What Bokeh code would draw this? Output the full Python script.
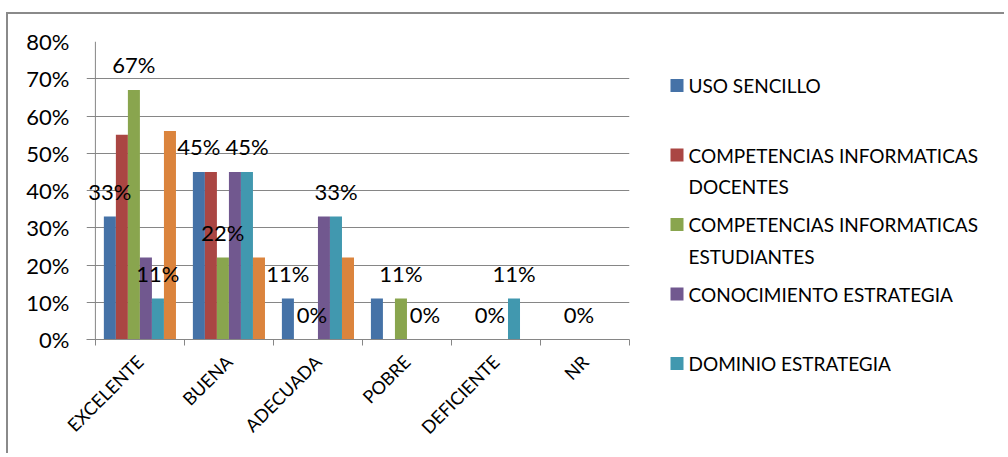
import numpy as np
from bokeh.plotting import figure
from bokeh.models import FixedTicker, NumeralTickFormatter, Range1d, ColumnDataSource, LabelSet, Span
from bokeh.layouts import row
from bokeh.core.properties import value
from bokeh.embed import file_html
from bokeh.resources import INLINE

# ---------------- data ----------------
categories = ["EXCELENTE", "BUENA", "ADECUADA", "POBRE", "DEFICIENTE", "NR"]
legend_names = [
    "USO SENCILLO",
    " COMPETENCIAS INFORMATICAS\nDOCENTES",
    " COMPETENCIAS INFORMATICAS\nESTUDIANTES",
    "CONOCIMIENTO ESTRATEGIA",
    "DOMINIO ESTRATEGIA",
]
uso_sencillo = [0.33, 0.45, 0.11, 0.11, 0.00, 0.00]
comp_docentes = [0.55, 0.45, 0.00, 0.00, 0.00, 0.00]
comp_estudiantes = [0.67, 0.22, 0.00, 0.11, 0.00, 0.00]
conocimiento = [0.22, 0.45, 0.33, 0.00, 0.00, 0.00]
dominio = [0.11, 0.45, 0.33, 0.00, 0.11, 0.00]
sexta_serie = [0.56, 0.22, 0.22, 0.00, 0.00, 0.00]   # series without legend entry
series = [uso_sencillo, comp_docentes, comp_estudiantes, conocimiento, dominio, sexta_serie]
colors = ["#4572A7", "#AA4643", "#89A54E", "#71588F", "#4198AF", "#DB843D"]
# data labels shown: (series index, category index)
shown_labels = [(0, 0), (0, 1), (0, 2),
                (2, 0), (2, 1), (2, 2), (2, 3), (2, 4), (2, 5),
                (4, 0), (4, 1), (4, 2), (4, 3), (4, 4)]
y_ticks = [0.0, 0.1, 0.2, 0.3, 0.4, 0.5, 0.6, 0.7, 0.8]

FONT = "Lato"
GRID = "#868686"

# ---------------- main chart ----------------
n_cat = len(categories)
n_ser = len(series)
bar_w = 0.135
offsets = [(i - (n_ser - 1) / 2) * bar_w for i in range(n_ser)]
centers = np.arange(n_cat) + 0.5

# the x range starts slightly left of 0 so that the gridlines poke out left of the
# value axis (like tick marks) and the first data label is not clipped
p = figure(width=640, height=439, x_range=Range1d(-0.1, n_cat), y_range=Range1d(0, 0.8),
           output_backend="svg", toolbar_location=None,
           min_border_left=78, min_border_right=19, min_border_top=27, min_border_bottom=114)
p.outline_line_color = None
p.background_fill_color = "white"
p.border_fill_color = "white"

for i, vals in enumerate(series):
    p.vbar(x=list(centers + offsets[i]), top=vals, bottom=0, width=bar_w,
           fill_color=colors[i], line_color=None)

# value axis line at x = 0
p.add_layout(Span(location=0, dimension="height", line_color=GRID, line_width=1))

# data labels
lx, ly, lt = [], [], []
for s, c in shown_labels:
    v = series[s][c]
    lx.append(centers[c] + offsets[s])
    ly.append(v)
    lt.append(f"{round(v * 100)}%")
lsrc = ColumnDataSource(dict(x=lx, y=ly, t=lt))
p.add_layout(LabelSet(x="x", y="y", text="t", source=lsrc, y_offset=25,
                      text_align="center", text_baseline="middle",
                      text_font=value(FONT), text_font_size="22px", text_color="black"))

# y axis
p.yaxis.ticker = FixedTicker(ticks=y_ticks)
p.yaxis.formatter = NumeralTickFormatter(format="0%")
p.yaxis.major_label_text_font = FONT
p.yaxis.major_label_text_font_size = "22px"
p.yaxis.major_label_text_color = "black"
p.yaxis.axis_line_color = None
p.yaxis.major_tick_line_color = None
p.yaxis.major_tick_out = 0
p.yaxis.major_tick_in = 0
p.yaxis.minor_tick_line_color = None
p.yaxis.major_label_standoff = 17

# x axis: labels at category centres, ticks at boundaries
p.xaxis.ticker = FixedTicker(ticks=list(centers), minor_ticks=list(range(n_cat + 1)))
p.xaxis.major_label_overrides = {float(c): lab for c, lab in zip(centers, categories)}
p.xaxis.major_label_orientation = np.pi / 4
p.xaxis.major_label_text_font = FONT
p.xaxis.major_label_text_font_size = "18px"
p.xaxis.major_label_text_color = "black"
p.xaxis.axis_line_color = GRID
p.xaxis.major_tick_line_color = None
p.xaxis.minor_tick_line_color = GRID
p.xaxis.minor_tick_out = 6
p.xaxis.minor_tick_in = 0
p.xaxis.major_label_standoff = 13

p.xgrid.visible = False
p.ygrid.ticker = FixedTicker(ticks=y_ticks)
p.ygrid.grid_line_color = GRID
p.ygrid.grid_line_width = 1

# ---------------- legend panel ----------------
LW, LH = 356, 439
lg = figure(width=LW, height=LH, x_range=Range1d(0, LW), y_range=Range1d(LH, 0),
            output_backend="svg", toolbar_location=None,
            min_border=0, min_border_left=0, min_border_right=0,
            min_border_top=0, min_border_bottom=0,
            x_axis_location=None, y_axis_location=None)
lg.outline_line_color = None
lg.grid.visible = False
lg.border_fill_color = "white"

for fig in (p, lg):
    if "frame_align" in fig.properties():
        fig.frame_align = False

first_y = 71
step = 69.5
ys = [first_y + k * step for k in range(len(legend_names))]
lg.rect(x=[28.5] * len(legend_names), y=ys, width=13, height=13,
        fill_color=colors[:len(legend_names)], line_color=None)
lg.text(x=[40] * len(legend_names), y=[y - 11.5 for y in ys], text=legend_names,
        text_align="left", text_baseline="top", text_line_height=1.37,
        text_font=value(FONT), text_font_size="19px", text_color="black")

layout = row(p, lg, margin=(12, 0, 0, 6),
             styles={"border-left": "2px solid #8a8a8a", "border-top": "2px solid #8a8a8a"})

open("out.html", "w").write(file_html(layout, INLINE))
